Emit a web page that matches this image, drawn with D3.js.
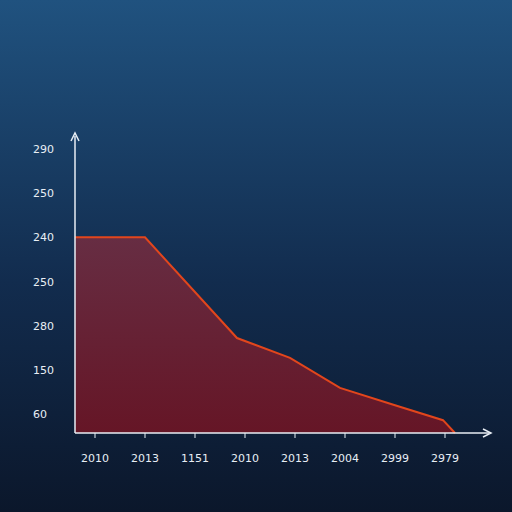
<!DOCTYPE html>
<html><head><meta charset="utf-8">
<script src="https://cdn.jsdelivr.net/npm/d3@7"></script>
<style>body{margin:0;background:#0d1b33}</style></head>
<body><svg id="c" width="512" height="512"></svg>
<script>
const yTickLabels = ["60","150","280","250","240","250","290"];
const yTickPos = [1,2,3,4,5,6,7];
const xTickLabels = ["2010","2013","1151","2010","2013","2004","2999","2979"];
const xTickPos = [0,1,2,3,4,5,6,7];
const seriesX = [-0.4,1,2.84,3.9,4.9,6,6.96,7.2];
const seriesY = [5,5,2.72,2.27,1.59,1.2,0.86,0.57];

const svg = d3.select("#c");
const defs = svg.append("defs");
const bg = defs.append("linearGradient").attr("id","bg").attr("x1",0).attr("y1",0).attr("x2",0).attr("y2",1);
bg.append("stop").attr("offset","0%").attr("stop-color","#20527f");
bg.append("stop").attr("offset","55%").attr("stop-color","#122c4e");
bg.append("stop").attr("offset","100%").attr("stop-color","#0b172b");
const ar = defs.append("linearGradient").attr("id","ar").attr("x1",0).attr("y1",0).attr("x2",0).attr("y2",1);
ar.append("stop").attr("offset","0%").attr("stop-color","#6b2d42");
ar.append("stop").attr("offset","100%").attr("stop-color","#6a1525");
svg.append("rect").attr("width",512).attr("height",512).attr("fill","url(#bg)");

const x = d3.scaleLinear().domain([0,7]).range([95,445]);
const y = d3.scaleLinear().domain([0.57,7]).range([433,149]);
const data = seriesX.map((v,i)=>[v,seriesY[i]]);

svg.append("path").datum(data).attr("fill","url(#ar)").attr("opacity",0.95)
  .attr("d", d3.area().x(d=>x(d[0])).y0(y(0.57)).y1(d=>y(d[1])));
svg.append("path").datum(data).attr("fill","none").attr("stroke","#e2461c").attr("stroke-width",2)
  .attr("d", d3.line().x(d=>x(d[0])).y(d=>y(d[1])));

const ax = "#e8eef5";
svg.append("line").attr("x1",75).attr("x2",75).attr("y1",y(0.57)).attr("y2",136).attr("stroke",ax).attr("stroke-width",1.5);
svg.append("path").attr("d","M71,141 L75,133 L79,141").attr("fill","none").attr("stroke",ax).attr("stroke-width",1.5);
svg.append("line").attr("x1",75).attr("x2",489).attr("y1",y(0.57)).attr("y2",y(0.57)).attr("stroke",ax).attr("stroke-width",1.5);
svg.append("path").attr("d","M483,429 L491,433 L483,437").attr("fill","none").attr("stroke",ax).attr("stroke-width",1.5);

svg.selectAll(".yl").data(yTickPos).enter().append("text")
  .attr("x",33).attr("y",d=>y(d)+4).text((d,i)=>yTickLabels[i])
  .attr("fill",ax).attr("font-family","DejaVu Sans").attr("font-size",11);
svg.selectAll(".xt").data(xTickPos).enter().append("line")
  .attr("x1",d=>x(d)).attr("x2",d=>x(d)).attr("y1",433).attr("y2",438).attr("stroke",ax);
svg.selectAll(".xl").data(xTickPos).enter().append("text")
  .attr("x",d=>x(d)).attr("y",462).attr("text-anchor","middle").text((d,i)=>xTickLabels[i])
  .attr("fill",ax).attr("font-family","DejaVu Sans").attr("font-size",11);
</script></body></html>
